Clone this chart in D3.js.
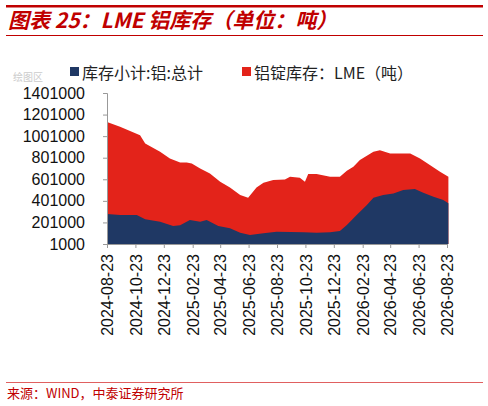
<!DOCTYPE html>
<html><head><meta charset="utf-8">
<script src="https://cdn.jsdelivr.net/npm/d3@7"></script>
<style>body{margin:0;background:#fff}svg{display:block}</style>
</head><body>
<script>
const startDate = "2024-08-23";
const tickLabels = ["2024-08-23","2024-10-23","2024-12-23","2025-02-23","2025-04-23","2025-06-23","2025-08-23","2025-10-23","2025-12-23","2026-02-23","2026-04-23","2026-06-23","2026-08-23"];
const yTicks = [1000,201000,401000,601000,801000,1001000,1201000,1401000];
// days since start
const redDays = [0,28,71,82,114,135,157,171,182,200,221,243,264,286,303,321,336,357,382,393,414,425,432,450,479,500,515,529,543,572,586,608,629,651,672,694,715,733];
const redVals = [1133000,1087000,1010000,933000,856000,794000,757000,757000,748000,702000,655000,578000,526000,455000,430000,526000,569000,594000,600000,624000,615000,578000,649000,649000,624000,624000,680000,717000,779000,856000,871000,841000,841000,841000,794000,732000,670000,624000];
const blueDays = [0,28,64,82,114,142,157,178,200,214,239,264,286,307,336,364,393,422,450,479,500,515,536,558,572,593,615,636,661,679,701,722,733];
const blueVals = [279000,270000,270000,230000,208000,168000,174000,223000,208000,223000,168000,146000,106000,84000,100000,115000,112000,109000,106000,109000,121000,177000,270000,362000,430000,455000,470000,501000,510000,476000,439000,408000,378000];
const legendLabels = ["库存小计:铝:总计","铝锭库存：LME（吨）"];
const colors = ["#1f3864","#e3231a"];

const W=488,H=406;
const svg=d3.select("body").append("svg").attr("width",W).attr("height",H);
const font="Liberation Sans, Arial, sans-serif";
const parse=d3.timeParse("%Y-%m-%d");
const t0=parse(startDate);
const x=d3.scaleTime().domain([t0,parse("2026-08-23")]).range([107,447]);
const y=d3.scaleLinear().domain([1000,1401000]).range([244,93]);

svg.append("rect").attr("x",6).attr("y",5).attr("width",477).attr("height",2.5).attr("fill","#c00000");
svg.append("text").attr("x",8).attr("y",28).attr("fill","#c00000").attr("font-size",21).attr("font-weight","bold").attr("font-style","italic")
  .attr("font-family","Noto Sans CJK SC, sans-serif").text("图表 25：LME 铝库存（单位：吨）");
svg.append("rect").attr("x",6).attr("y",35).attr("width",477).attr("height",1).attr("fill","#c00000");

svg.append("text").attr("x",13).attr("y",81).attr("font-size",10).attr("fill","#ccc").attr("font-family","Noto Sans CJK SC").text("绘图区");
const lg=[[70,legendLabels[0]],[242,legendLabels[1]]];
lg.forEach((d,i)=>{
  svg.append("rect").attr("x",d[0]).attr("y",67).attr("width",9).attr("height",9).attr("fill",colors[i]);
  svg.append("text").attr("x",d[0]+12).attr("y",79).attr("font-size",16).attr("fill","#222").attr("font-family","Noto Sans CJK SC, sans-serif").text(d[1]);
});

const area=d3.area().x(d=>x(d3.timeDay.offset(t0,d[0]))).y0(y(1000)).y1(d=>y(d[1]));
svg.append("path").datum(redDays.map((d,i)=>[d,redVals[i]])).attr("fill",colors[1]).attr("d",area);
svg.append("path").datum(blueDays.map((d,i)=>[d,blueVals[i]])).attr("fill",colors[0]).attr("d",area);

const ya=svg.append("g").attr("transform","translate(107,0)").call(d3.axisLeft(y).tickValues(yTicks).tickFormat(d3.format("d")).tickSize(4).tickPadding(18));
ya.selectAll("text").attr("font-size",16).attr("font-family",font).attr("fill","#111");
ya.selectAll("line,path").attr("stroke","#999");
const xa=svg.append("g").attr("transform","translate(0,244)").call(d3.axisBottom(x).tickValues(tickLabels.map(parse)).tickFormat(d3.timeFormat("%Y-%m-%d")).tickSize(4).tickSizeOuter(0));
xa.selectAll("line,path").attr("stroke","#999");
xa.selectAll("text").attr("font-size",16).attr("font-family",font).attr("fill","#111")
  .attr("transform","rotate(-90)").attr("text-anchor","end").attr("x",-10).attr("y",0).attr("dy","0.35em");

svg.append("rect").attr("x",6).attr("y",382).attr("width",477).attr("height",1).attr("fill","#e06060");
svg.append("text").attr("x",7).attr("y",398).attr("font-size",13).attr("fill","#c00000").attr("font-family","Noto Sans CJK SC, sans-serif").text("来源：WIND，中泰证券研究所");
</script>
</body></html>
